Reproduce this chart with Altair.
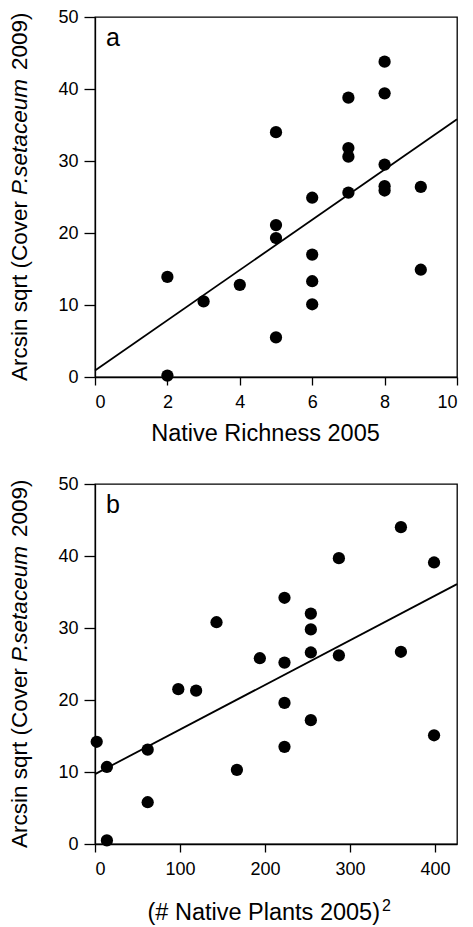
import altair as alt
import pandas as pd

# ---- data ----
richness = [2, 2, 3, 4, 5, 5, 5, 5, 6, 6, 6, 6, 7, 7, 7, 7, 8, 8, 8, 8, 8, 9, 9]
cover_a = [13.9, 0.2, 10.5, 12.8, 34.0, 21.1, 19.3, 5.5, 24.9, 17.0, 13.3, 10.1,
           38.8, 31.8, 30.6, 25.6, 43.8, 39.4, 29.5, 26.5, 25.9, 26.4, 14.9]

plants_sq = [2, 14, 14, 62, 62, 98, 119, 143, 167, 194, 223, 223, 223, 223,
             254, 254, 254, 254, 287, 287, 360, 360, 399, 399]
cover_b = [14.2, 10.7, 0.5, 13.1, 5.8, 21.5, 21.3, 30.8, 10.3, 25.8, 34.2, 25.2,
           19.6, 13.5, 32.0, 29.8, 26.6, 17.2, 39.7, 26.2, 44.0, 26.7, 39.1, 15.1]

fit_a_x = [0, 10]
fit_a_y = [0.9, 35.8]
fit_b_x = [0, 426]
fit_b_y = [9.7, 36.1]

y_ticks = [0, 10, 20, 30, 40, 50]
x_ticks_a = [0, 2, 4, 6, 8, 10]
x_ticks_b = [0, 100, 200, 300, 400]

title_a = "Native Richness 2005"
title_b = "(# Native Plants 2005)"
title_b_sup = "2"

FONT = "Liberation Sans"
W, H = 362, 360


def text_layer(txt, x, y, size, align="left", baseline="alphabetic",
               angle=0, style="normal"):
    return (
        alt.Chart(pd.DataFrame({"t": [txt]}))
        .mark_text(angle=angle, align=align, baseline=baseline, fontSize=size,
                   font=FONT, fontStyle=style, color="black")
        .encode(x=alt.value(x), y=alt.value(y), text="t:N")
    )


def y_title_layers():
    return [
        text_layer("Arcsin sqrt (Cover", -75, 184, 22.5, "right", "middle", 270),
        text_layer("P.setaceum", -75, 178, 22.5, "left", "middle", 270, "italic"),
        text_layer("2009)", -75, 53, 22.5, "left", "middle", 270),
    ]


def panel(xs, ys, fx, fy, xdom, xticks, xtitle, letter, extra):
    df = pd.DataFrame({"x": xs, "y": ys})
    dfit = pd.DataFrame({"x": fx, "y": fy})
    xsc = alt.Scale(domain=xdom, nice=False, zero=False)
    ysc = alt.Scale(domain=[0, 50], nice=False)
    if xtitle:
        xax = alt.Axis(values=xticks, title=xtitle, grid=False, tickSize=8,
                       labelPadding=8, titlePadding=10, format="d",
                       titleX=170, titleAlign="center")
    else:
        xax = alt.Axis(values=xticks, title=None, grid=False, tickSize=8,
                       labelPadding=8, format="d")
    yax = alt.Axis(values=y_ticks, title=None, grid=False, tickSize=11,
                   labelPadding=6)
    pts = alt.Chart(df).mark_circle(size=150, color="black", opacity=1).encode(
        x=alt.X("x:Q", scale=xsc, axis=xax),
        y=alt.Y("y:Q", scale=ysc, axis=yax),
    )
    line = alt.Chart(dfit).mark_line(color="black", strokeWidth=1.8).encode(
        x=alt.X("x:Q", scale=xsc),
        y=alt.Y("y:Q", scale=ysc),
    )
    lab = text_layer(letter, 11, 29, 25)
    return alt.layer(line, pts, lab, *y_title_layers(), *extra).properties(
        width=W, height=H)


pa = panel(richness, cover_a, fit_a_x, fit_a_y, [0, 10], x_ticks_a,
           title_a, "a", [])
pb = panel(plants_sq, cover_b, fit_b_x, fit_b_y, [0, 426], x_ticks_b,
           None, "b",
           [text_layer(title_b, 285, 436, 23.5, "right"),
            text_layer(title_b_sup, 287, 427, 16, "left")])

chart = (
    alt.vconcat(pa, pb, spacing=28)
    .properties(padding={"left": 8, "top": 7, "right": 2, "bottom": 2},
                background="white")
    .configure_view(stroke="black", strokeWidth=1.3)
    .configure_axis(
        labelFont=FONT, labelFontSize=18, labelColor="black",
        titleFont=FONT, titleFontSize=23.5, titleFontWeight="normal",
        titleColor="black", domainColor="black", tickColor="black",
        domainWidth=1.3, tickWidth=1.3,
    )
)

chart.save("out.html", embed_options={"renderer": "svg", "actions": False})
